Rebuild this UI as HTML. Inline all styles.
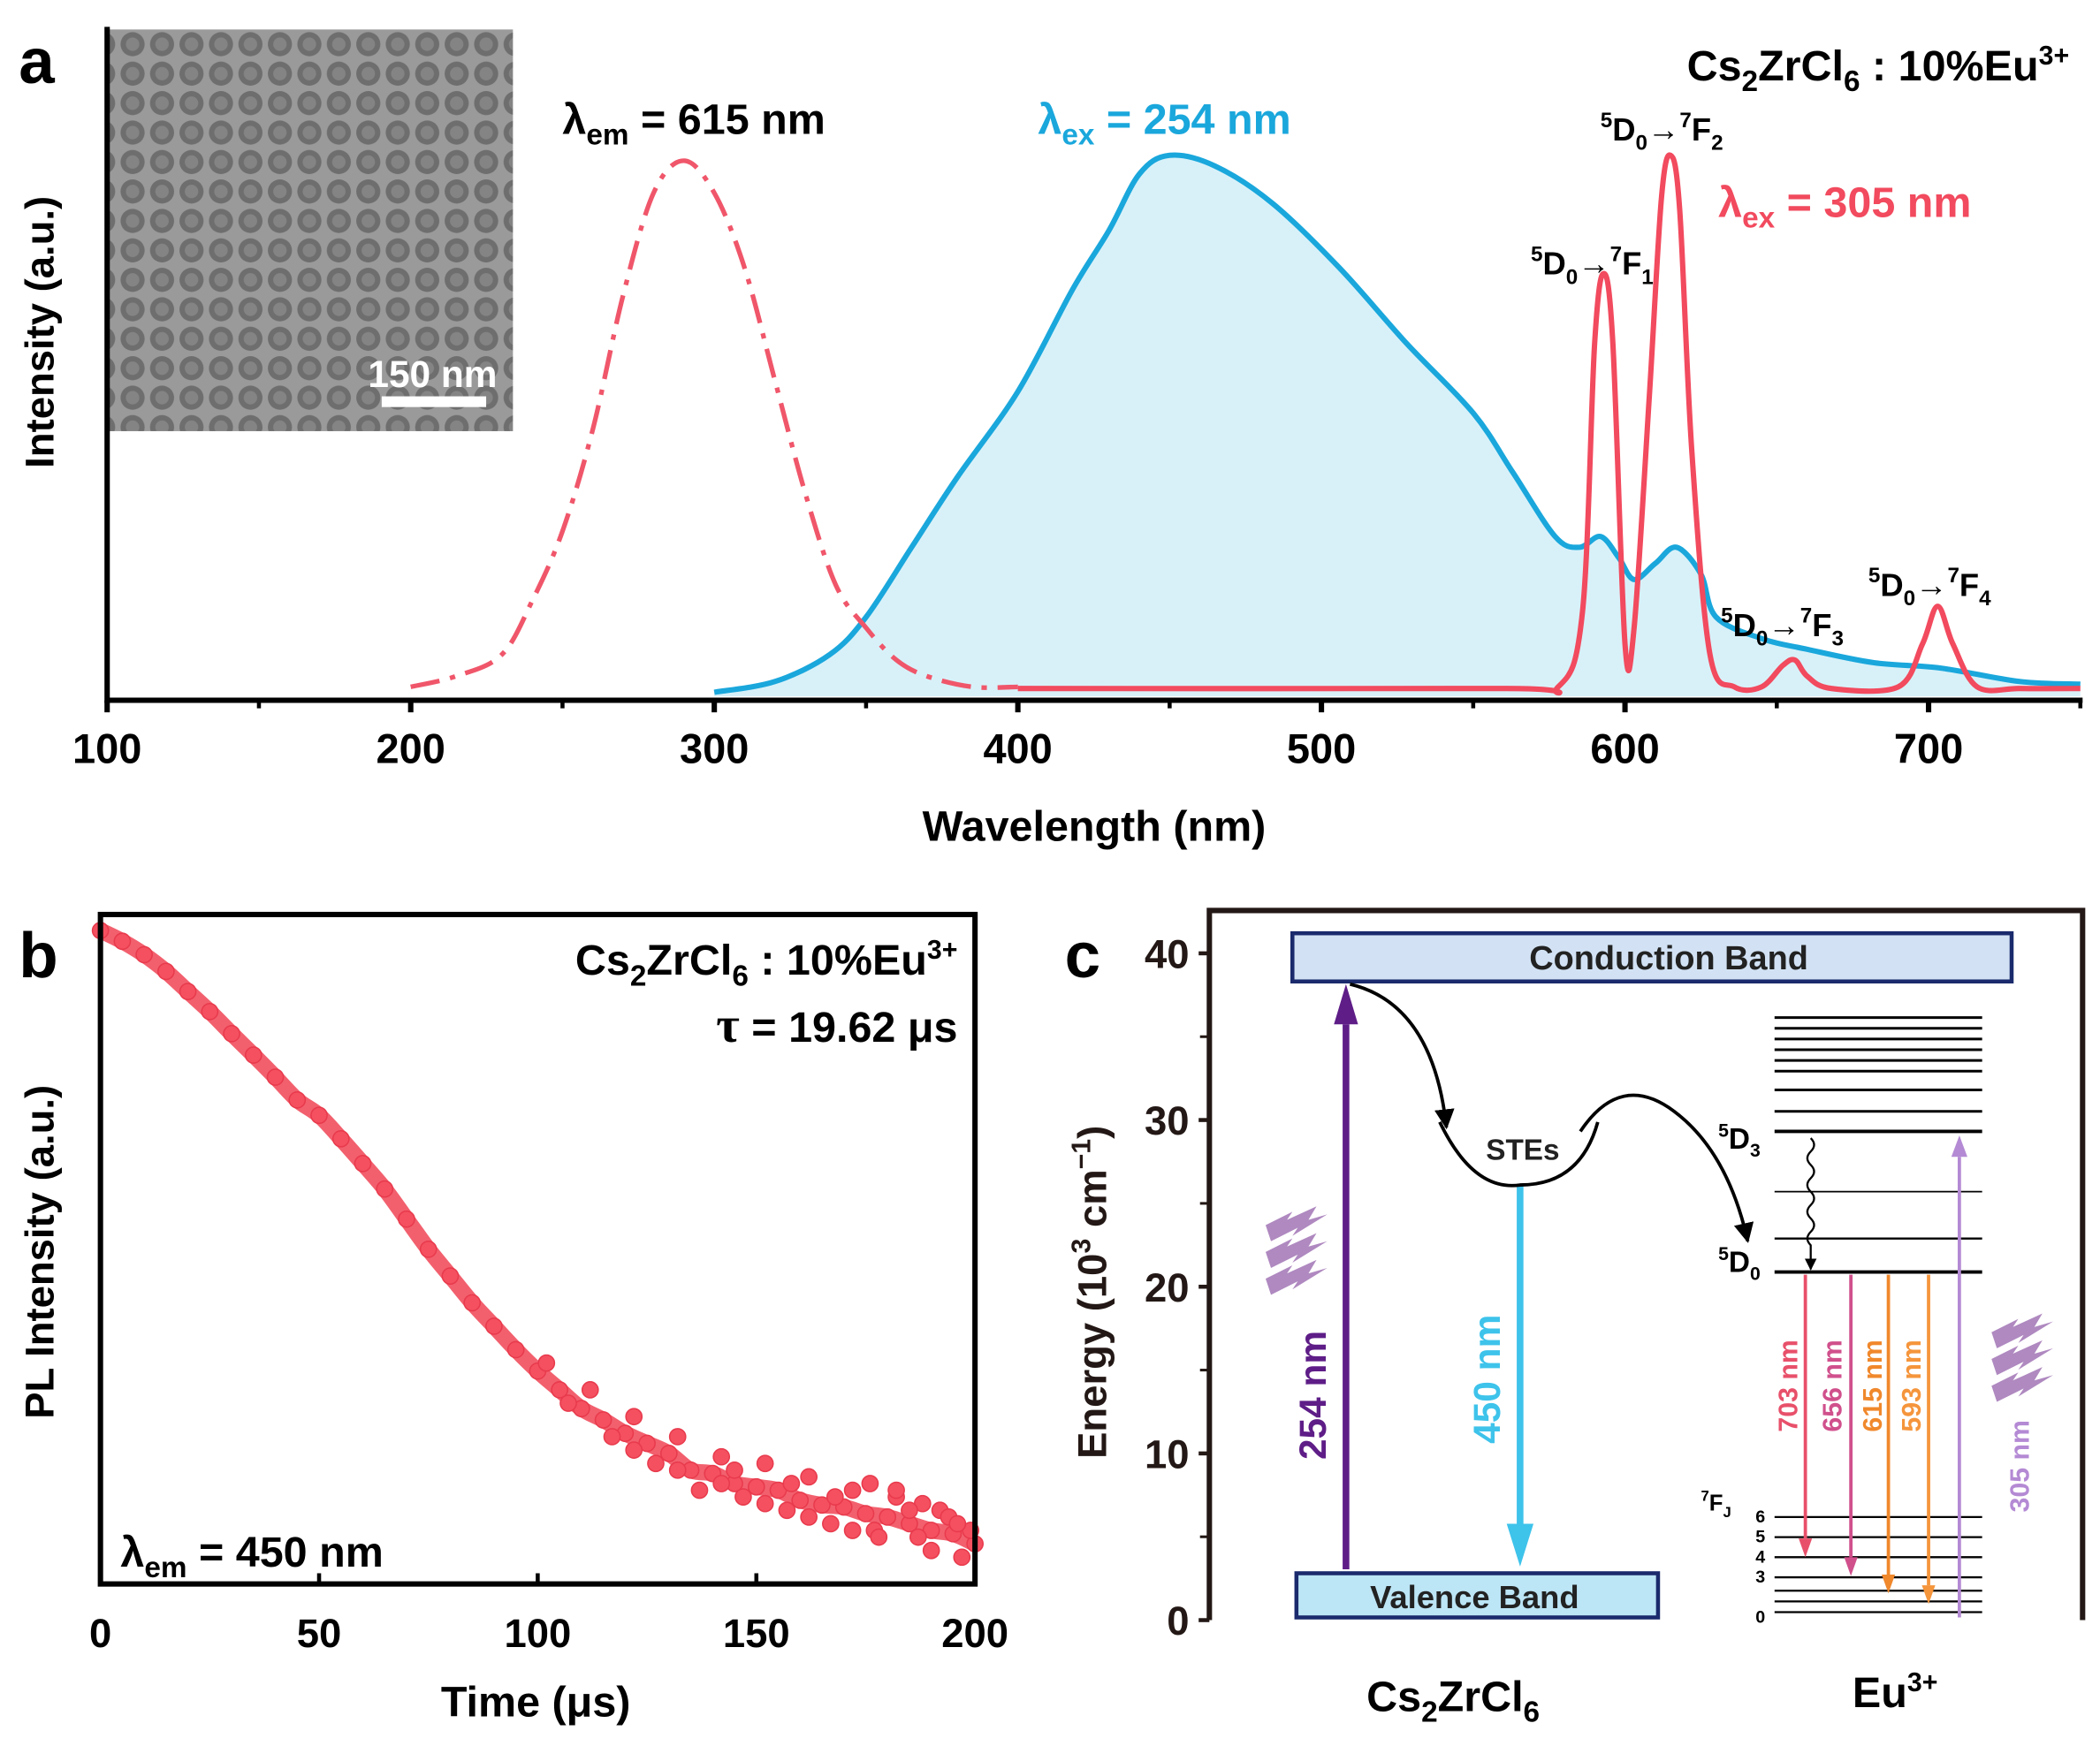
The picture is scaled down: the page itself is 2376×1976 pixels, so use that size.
<!DOCTYPE html>
<html><head><meta charset="utf-8"><style>
html,body{margin:0;padding:0;background:#fff}
svg{display:block}
text{font-family:"Liberation Sans",Arial,sans-serif;font-weight:bold}
</style></head><body>
<svg id="fig" width="2376" height="1976" viewBox="0 0 1568 1304" xmlns="http://www.w3.org/2000/svg">
<defs>
<marker id="ah" viewBox="0 0 10 10" refX="9" refY="5" markerWidth="6" markerHeight="6" orient="auto"><path d="M0,0L10,5L0,10z" fill="#000"/></marker>
<pattern id="tem" width="22" height="22" patternUnits="userSpaceOnUse"><rect width="22" height="22" fill="#9a9a9a"/><circle cx="11" cy="11" r="9" fill="#6e6e6e"/><circle cx="11" cy="11" r="5" fill="#848484"/></pattern>
</defs>
<g id="panelA"></g>
<g id="panelB"></g>
<g id="panelC"></g>
</svg>
<script>
// ---- Panel a data ----
const exWl = [200,215,230,240,250,260,270,280,290,300,310,320,330,340,350,360,370,385,400];
const exI  = [0.01,0.03,0.07,0.17,0.30,0.49,0.74,0.93,0.99,0.93,0.79,0.58,0.37,0.20,0.12,0.06,0.03,0.01,0.01];
const blueWl = [300,320,338,350,365,380,400,418,430,440,450,465,484,506,528,550,563,577,585,592,598,603,610,617,625,630,645,660,682,704,730,750];
const blueI  = [0.0,0.02,0.07,0.14,0.27,0.40,0.56,0.75,0.86,0.965,1.0,0.98,0.91,0.79,0.65,0.52,0.41,0.29,0.27,0.29,0.25,0.21,0.24,0.27,0.22,0.14,0.10,0.08,0.055,0.045,0.02,0.015];
const redWl = [400,560,578,586,590,593,596,600,603,608,612,615,618,622,628,636,645,652,656,660,668,690,698,703,708,716,730,750];
const redI  = [0.007,0.007,0.01,0.15,0.65,0.78,0.65,0.09,0.12,0.55,0.92,1.0,0.90,0.45,0.07,0.01,0.01,0.05,0.06,0.03,0.007,0.01,0.09,0.16,0.09,0.01,0.007,0.007];
const aTicks = [100,200,300,400,500,600,700];
// ---- Panel b data ----
const tVals = [0,5,10,15,20,25,30,35,40,45,50,55,60,65,70,75,80,85,90,95,100,105,110,115,120,125,130,135,140,145,150,155,160,165,170,175,180,185,190,195,200];
const plVals = [0.976,0.960,0.940,0.915,0.885,0.855,0.822,0.790,0.757,0.723,0.700,0.665,0.628,0.590,0.545,0.500,0.460,0.420,0.385,0.350,0.318,0.290,0.262,0.245,0.225,0.210,0.195,0.170,0.165,0.150,0.145,0.140,0.125,0.118,0.115,0.105,0.100,0.090,0.080,0.075,0.060];
const tailT = [102,107,112,117,122,127,132,137,142,147,152,157,162,167,172,177,182,187,192,197,122,132,142,152,162,172,176,182,188,194,199,145,158,168,178,185,190,196];
const tailV = [0.33,0.27,0.29,0.22,0.25,0.18,0.22,0.14,0.19,0.13,0.18,0.11,0.16,0.09,0.14,0.08,0.13,0.07,0.11,0.04,0.20,0.17,0.15,0.12,0.10,0.08,0.15,0.14,0.12,0.10,0.08,0.17,0.15,0.13,0.07,0.11,0.05,0.09];
const bTicks = [0,50,100,150,200];
// ---- Panel c data ----
const eTicks = [0,10,20,30,40];

const NS="http://www.w3.org/2000/svg";
function mk(parent,tag,attrs,txt){const e=document.createElementNS(NS,tag);for(const k in attrs)e.setAttribute(k,attrs[k]);if(txt!==undefined)e.innerHTML=txt;parent.appendChild(e);return e;}
function smooth(pts){let d="M"+pts[0][0]+","+pts[0][1];for(let i=0;i<pts.length-1;i++){const p0=pts[Math.max(0,i-1)],p1=pts[i],p2=pts[i+1],p3=pts[Math.min(pts.length-1,i+2)];d+=" C"+(p1[0]+(p2[0]-p0[0])/6)+","+(p1[1]+(p2[1]-p0[1])/6)+" "+(p2[0]-(p3[0]-p1[0])/6)+","+(p2[1]-(p3[1]-p1[1])/6)+" "+p2[0]+","+p2[1];}return d;}

// ===== Panel a =====
const A=document.getElementById('panelA');
const ax=w=>80+(w-100)*(1360/600);
const ay=i=>517-i*401;
let el=mk(A,'rect',{x:80,y:22,width:303,height:300,fill:'url(#tem)'});


el=mk(A,'rect',{x:285,y:296,width:78,height:8,fill:'#fff'});


el=mk(A,'text',{x:323,y:289,'font-size':28,fill:'#fff','text-anchor':'middle'},'150 nm');


const bp=blueWl.map((w,i)=>[ax(w),ay(blueI[i])]);
const bd=smooth(bp);
el=mk(A,'path',{d:bd+" L"+ax(750)+",520 L"+ax(300)+",520 Z",fill:'#d8f1f9',stroke:'none'});


el=mk(A,'path',{d:bd,fill:'none',stroke:'#1aa7dc','stroke-width':4});


const rp=redWl.map((w,i)=>[ax(w),ay(redI[i])]);
el=mk(A,'path',{d:smooth(rp),fill:'none',stroke:'#f24a5e','stroke-width':4});


const ep=exWl.map((w,i)=>[ax(w),ay(exI[i])]);
el=mk(A,'path',{d:smooth(ep),fill:'none',stroke:'#f0566a','stroke-width':3.5,'stroke-dasharray':'22,8,4,8'});


el=mk(A,'path',{d:"M80,20 L80,523 L1555,523",fill:'none',stroke:'#000','stroke-width':4});


aTicks.forEach(t=>{
 let e=mk(A,'line',{x1:ax(t),x2:ax(t),y1:523,y2:532,stroke:'#000','stroke-width':4});
 
 
 e=mk(A,'line',{x1:ax(t+50),x2:ax(t+50),y1:523,y2:529,stroke:'#000','stroke-width':3});
 
 
 e=mk(A,'text',{x:ax(t),y:570,'font-size':31,'text-anchor':'middle'},t);
 
 
});
const ta=[
 ['panel-label-a',14,62,48,'start','#000','a'],
 ['x-axis-title-a',817,628,32,'middle','#000','Wavelength (nm)'],
 ['lambda-em-615',420,100,32,'start','#000','λ<tspan font-size="22" dy="8">em</tspan><tspan dy="-8"> = 615 nm</tspan>'],
 ['lambda-ex-254',775,100,32,'start','#1aa7dc','λ<tspan font-size="22" dy="8">ex</tspan><tspan dy="-8"> = 254 nm</tspan>'],
 ['lambda-ex-305',1283,162,32,'start','#f24a5e','λ<tspan font-size="22" dy="8">ex</tspan><tspan dy="-8"> = 305 nm</tspan>'],
 ['compound-label-a',1545,60,32,'end','#000','Cs<tspan font-size="22" dy="8">2</tspan><tspan dy="-8">ZrCl</tspan><tspan font-size="22" dy="8">6</tspan><tspan dy="-8"> : 10%Eu</tspan><tspan font-size="20" dy="-12">3+</tspan>'],
 ['transition-7F2',1195,105,24,'start','#000','<tspan font-size="16" dy="-10">5</tspan><tspan dy="10">D</tspan><tspan font-size="16" dy="7">0</tspan><tspan dy="-7">→</tspan><tspan font-size="16" dy="-10">7</tspan><tspan dy="10">F</tspan><tspan font-size="16" dy="7">2</tspan>'],
 ['transition-7F1',1143,205,24,'start','#000','<tspan font-size="16" dy="-10">5</tspan><tspan dy="10">D</tspan><tspan font-size="16" dy="7">0</tspan><tspan dy="-7">→</tspan><tspan font-size="16" dy="-10">7</tspan><tspan dy="10">F</tspan><tspan font-size="16" dy="7">1</tspan>'],
 ['transition-7F3',1285,475,24,'start','#000','<tspan font-size="16" dy="-10">5</tspan><tspan dy="10">D</tspan><tspan font-size="16" dy="7">0</tspan><tspan dy="-7">→</tspan><tspan font-size="16" dy="-10">7</tspan><tspan dy="10">F</tspan><tspan font-size="16" dy="7">3</tspan>'],
 ['transition-7F4',1395,445,24,'start','#000','<tspan font-size="16" dy="-10">5</tspan><tspan dy="10">D</tspan><tspan font-size="16" dy="7">0</tspan><tspan dy="-7">→</tspan><tspan font-size="16" dy="-10">7</tspan><tspan dy="10">F</tspan><tspan font-size="16" dy="7">4</tspan>']
];
ta.forEach(t=>{const e=mk(A,'text',{x:t[1],y:t[2],'font-size':t[3],'text-anchor':t[4],fill:t[5]},t[6]);
 
 });
el=mk(A,'text',{x:0,y:0,'font-size':30,'text-anchor':'middle',transform:'translate(40,248) rotate(-90)'},'Intensity (a.u.)');



// ===== Panel b =====
const B=document.getElementById('panelB');
const bx=t=>75+t*(653/200);
const by=v=>1183-v*500;
el=mk(B,'path',{d:smooth(tVals.map((t,i)=>[bx(t),by(plVals[i])])),fill:'none',stroke:'#f2606e','stroke-width':12});


tVals.forEach((t,i)=>{const e=mk(B,'circle',{cx:bx(t),cy:by(plVals[i]),r:6,fill:'#f45060',stroke:'#e83a4c','stroke-width':1});
 
 });
tailT.forEach((t,i)=>{const e=mk(B,'circle',{cx:bx(t),cy:by(tailV[i]),r:6,fill:'#f45060',stroke:'#e83a4c','stroke-width':1});
 
 });
el=mk(B,'rect',{x:75,y:683,width:653,height:500,fill:'none',stroke:'#000','stroke-width':4});


bTicks.forEach(t=>{let e=mk(B,'line',{x1:bx(t),x2:bx(t),y1:1183,y2:1175,stroke:'#000','stroke-width':3});
 
 
 e=mk(B,'text',{x:bx(t),y:1230,'font-size':30,'text-anchor':'middle'},t);
 
 });
const tb=[
 ['panel-label-b',14,730,48,'start','b'],
 ['x-axis-title-b',400,1282,32,'middle','Time (μs)'],
 ['compound-label-b',715,728,32,'end','Cs<tspan font-size="22" dy="8">2</tspan><tspan dy="-8">ZrCl</tspan><tspan font-size="22" dy="8">6</tspan><tspan dy="-8"> : 10%Eu</tspan><tspan font-size="20" dy="-12">3+</tspan>'],
 ['lifetime-label',715,778,32,'end','<tspan font-family="Liberation Serif" font-size="38">τ</tspan> = 19.62 μs'],
 ['lambda-em-450',90,1170,32,'start','λ<tspan font-size="22" dy="8">em</tspan><tspan dy="-8"> = 450 nm</tspan>']
];
tb.forEach(t=>{const e=mk(B,'text',{x:t[1],y:t[2],'font-size':t[3],'text-anchor':t[4]},t[5]);
 
 });
el=mk(B,'text',{x:0,y:0,'font-size':30,'text-anchor':'middle',transform:'translate(40,935) rotate(-90)'},'PL Intensity (a.u.)');



// ===== Panel c =====
const C=document.getElementById('panelC');
const cy=e=>1210-e*12.45;
el=mk(C,'path',{d:"M903,1210 L903,680 L1555,680 L1555,1210",fill:'none',stroke:'#231815','stroke-width':4});


eTicks.forEach(t=>{let e=mk(C,'line',{x1:895,x2:903,y1:cy(t),y2:cy(t),stroke:'#231815','stroke-width':3});
 
 
 e=mk(C,'text',{x:888,y:cy(t)+11,'font-size':30,'text-anchor':'end',fill:'#231815'},t);
 
 
 if(t<40){e=mk(C,'line',{x1:896,x2:903,y1:cy(t+5),y2:cy(t+5),stroke:'#231815','stroke-width':2});
 
 }});
el=mk(C,'text',{x:795,y:730,'font-size':48},'c');


el=mk(C,'text',{x:0,y:0,'font-size':30,'text-anchor':'middle',fill:'#231815',transform:'translate(826,965) rotate(-90)'},'Energy (10<tspan font-size="20" dy="-12">3</tspan><tspan dy="12"> cm</tspan><tspan font-size="20" dy="-12">−1</tspan><tspan dy="12">)</tspan>');


el=mk(C,'rect',{x:965,y:697,width:537,height:36,fill:'#d2e2f4',stroke:'#1a2a6c','stroke-width':3});


el=mk(C,'text',{x:1246,y:724,'font-size':25,'text-anchor':'middle',fill:'#222'},'Conduction  Band');


el=mk(C,'rect',{x:968,y:1175,width:270,height:33,fill:'#bce5f5',stroke:'#1a2a6c','stroke-width':3});


el=mk(C,'text',{x:1101,y:1201,'font-size':24,'text-anchor':'middle',fill:'#222'},'Valence  Band');


function arrow(name,x,y1,y2,col,w,hw,hl){const dir=y2<y1?-1:1;
 let e=mk(C,'line',{x1:x,x2:x,y1:y1,y2:y2-dir*hl,stroke:col,'stroke-width':w});
 
 
 e=mk(C,'path',{d:`M${x-hw},${y2-dir*hl} L${x+hw},${y2-dir*hl} L${x},${y2} Z`,fill:col});
 
 }
arrow('arrow-254',1005,1172,735,'#5e1d87',5,9,30);
arrow('arrow-450',1135,885,1170,'#3ec3eb',5,10,32);
el=mk(C,'path',{d:"M1008,735 Q1070,750 1080,842",fill:'none',stroke:'#000','stroke-width':2.5,'marker-end':'url(#ah)'});


el=mk(C,'path',{d:"M1075,838 Q1100,890 1135,885 Q1180,885 1193,838",fill:'none',stroke:'#000','stroke-width':2.5});


el=mk(C,'text',{x:1137,y:866,'font-size':22,'text-anchor':'middle',fill:'#222'},'STEs');


el=mk(C,'path',{d:"M1180,845 Q1210,800 1250,830 Q1290,860 1305,927",fill:'none',stroke:'#000','stroke-width':2.5,'marker-end':'url(#ah)'});


[760,768,776,784,792,800,814,830].forEach(y=>{const e=mk(C,'line',{x1:1325,x2:1480,y1:y,y2:y,stroke:'#000','stroke-width':2});
 
 });
[[845,2.5],[890,1.2],[925,1.5],[950,2.5],[1133,1.5],[1148,1.5],[1163,1.5],[1178,1.5],[1188,1.5],[1196,1.5],[1204,1.5]].forEach(l=>{const e=mk(C,'line',{x1:1325,x2:1480,y1:l[0],y2:l[0],stroke:'#000','stroke-width':l[1]});
 
 });
[['6',1137],['5',1152],['4',1167],['3',1182],['0',1212]].forEach(j=>{const e=mk(C,'text',{x:1318,y:j[1],'font-size':13,'text-anchor':'end'},j[0]);
 
 });
el=mk(C,'text',{x:1270,y:1128,'font-size':17},'<tspan font-size="11" dy="-7">7</tspan><tspan dy="7">F</tspan><tspan font-size="11" dy="5">J</tspan>');


el=mk(C,'text',{x:1283,y:858,'font-size':22},'<tspan font-size="14" dy="-9">5</tspan><tspan dy="9">D</tspan><tspan font-size="14" dy="6">3</tspan>');


el=mk(C,'text',{x:1283,y:950,'font-size':22},'<tspan font-size="14" dy="-9">5</tspan><tspan dy="9">D</tspan><tspan font-size="14" dy="6">0</tspan>');


el=mk(C,'path',{d:"M1352,850 q5,5 0,10 q-5,5 0,10 q5,5 0,10 q-5,5 0,10 q5,5 0,10 q-5,5 0,10 q5,5 0,10 q-5,5 0,10 L1352,948",fill:'none',stroke:'#000','stroke-width':1.5,'marker-end':'url(#ah)'});


arrow('arrow-703',1348,952,1163,'#e8506a',2.5,5,14);
arrow('arrow-656',1382,952,1177,'#d0508c',2.5,5,14);
arrow('arrow-615',1410,952,1190,'#f0882c',2.5,5,14);
arrow('arrow-593',1440,952,1198,'#f5953c',2.5,5,14);
arrow('arrow-305',1463,1208,848,'#b48ad4',2.5,6,16);
[['label-703','703 nm',1342,'#e8506a'],['label-656','656 nm',1375,'#d0508c'],['label-615','615 nm',1405,'#f0882c'],['label-593','593 nm',1434,'#f5953c']].forEach(l=>{
 const e=mk(C,'text',{x:0,y:0,'font-size':20,fill:l[3],'text-anchor':'middle',transform:`translate(${l[2]},1035) rotate(-90)`},l[1]);
 
 });
el=mk(C,'text',{x:0,y:0,'font-size':20,fill:'#b48ad4','text-anchor':'middle',transform:'translate(1515,1095) rotate(-90)'},'305 nm');


el=mk(C,'text',{x:0,y:0,'font-size':28,fill:'#5e1d87','text-anchor':'middle',transform:'translate(990,1042) rotate(-90)'},'254 nm');


el=mk(C,'text',{x:0,y:0,'font-size':28,fill:'#3ec3eb','text-anchor':'middle',transform:'translate(1120,1030) rotate(-90)'},'450 nm');


[[945,905],[945,925],[945,945],[1487,985],[1487,1005],[1487,1025]].forEach(p=>{
 const e=mk(C,'path',{d:`M${p[0]},${p[1]+10} l20,-10 l-4,6 l22,-10 l-6,10 l14,-4 l-26,16 l4,-6 l-20,10 z`,fill:'#9b6bb0',opacity:0.8});
 
 });
el=mk(C,'text',{x:1085,y:1278,'font-size':32,'text-anchor':'middle'},'Cs<tspan font-size="22" dy="8">2</tspan><tspan dy="-8">ZrCl</tspan><tspan font-size="22" dy="8">6</tspan>');


el=mk(C,'text',{x:1415,y:1275,'font-size':32,'text-anchor':'middle'},'Eu<tspan font-size="20" dy="-12">3+</tspan>');


</script>
</body></html>
